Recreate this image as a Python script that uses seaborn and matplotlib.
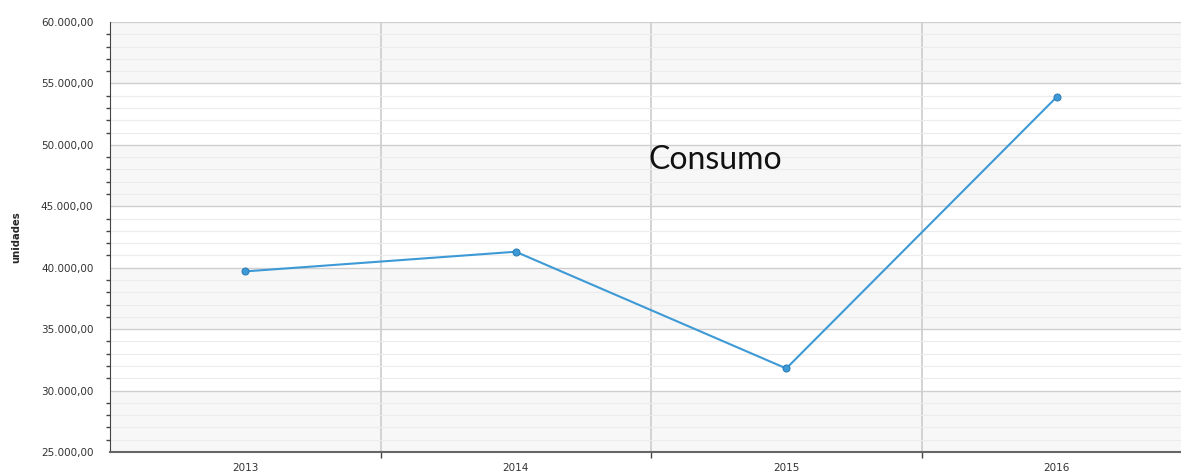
import matplotlib
matplotlib.use('Agg')
import matplotlib.pyplot as plt
import seaborn as sns
import numpy as np
from matplotlib.ticker import FuncFormatter, MultipleLocator, FixedLocator

years = ['2013', '2014', '2015', '2016']
consumo = [39700, 41300, 31800, 53900]

sns.set_style('white')
plt.rcParams['font.family'] = ['DejaVu Sans']

fig = plt.figure(figsize=(11.81, 4.73), dpi=100)
ax = fig.add_axes([110 / 1181, 21 / 473, 1082 / 1181, 430 / 473])

# alternating bands every 5000
for lo in range(25000, 60000, 5000):
    if (lo // 5000) % 2 == 1:
        ax.axhspan(lo, lo + 5000, color='#f7f7f7', zorder=0, lw=0)

sns.lineplot(x=np.arange(len(years)), y=consumo, ax=ax, color='#3d9ad6', lw=1.5,
             marker='o', markersize=5, markeredgecolor='#2f7fb8', markeredgewidth=0.8, zorder=5)

ax.set_ylim(25000, 60000)
ax.set_xlim(-0.5, 3.5)

ax.yaxis.set_major_locator(MultipleLocator(5000))
ax.yaxis.set_minor_locator(MultipleLocator(1000))
fmt = lambda v, p: f"{v:,.2f}".replace(',', 'X').replace('.', ',').replace('X', '.')
ax.yaxis.set_major_formatter(FuncFormatter(fmt))

ax.xaxis.set_major_locator(FixedLocator([0.5, 1.5, 2.5]))
ax.xaxis.set_minor_locator(FixedLocator(range(len(years))))
ax.set_xticklabels([])
ax.xaxis.set_minor_formatter(FuncFormatter(lambda v, p: years[int(round(v))]))

ax.grid(axis='y', which='major', color='#cfcfcf', lw=1, zorder=1)
ax.grid(axis='y', which='minor', color='#ececec', lw=0.8, zorder=1)
ax.grid(axis='x', which='major', color='#cccccc', lw=1.2, zorder=1)
ax.set_axisbelow(True)

ax.tick_params(axis='y', which='major', length=6, width=1, color='#444444', labelsize=7.5, labelcolor='#333333', pad=6)
ax.tick_params(axis='y', which='minor', left=True, length=3, width=1, color='#444444')
ax.tick_params(axis='x', which='major', bottom=True, length=4, width=1, color='#444444')
ax.tick_params(axis='x', which='minor', length=0, labelsize=7.5, labelcolor='#333333', pad=8)

for s in ['top', 'right']:
    ax.spines[s].set_visible(False)
ax.spines['left'].set_color('#444444')
ax.spines['bottom'].set_color('#666666')
ax.spines['bottom'].set_linewidth(1.5)

ax.set_xlabel('')
ax.set_ylabel('unidades', fontsize=8, fontweight='bold', fontstretch='condensed', labelpad=14)

ax.text(1.49, 48000, 'Consumo', fontsize=23, family='Lato', color='#111111', zorder=6)

fig.savefig('out.png', dpi=100, facecolor='white')
